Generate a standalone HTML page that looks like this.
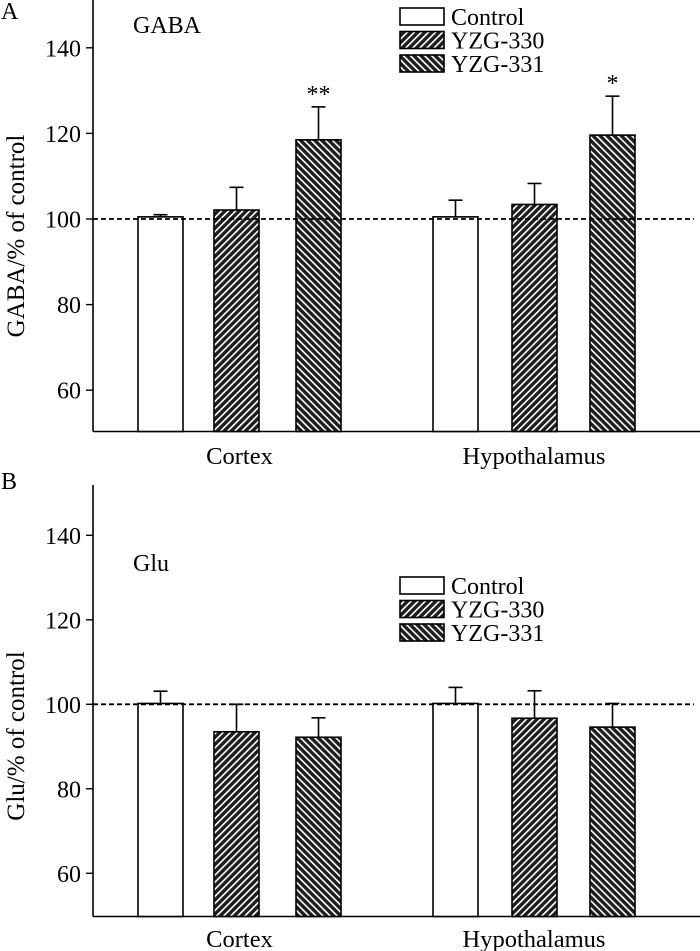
<!DOCTYPE html>
<html><head><meta charset="utf-8"><style>
html,body{margin:0;padding:0;background:#fff;}
svg{display:block;font-family:"Liberation Serif",serif;}
</style></head><body>
<svg id="chart" width="700" height="951" viewBox="0 0 700 951" xmlns="http://www.w3.org/2000/svg">
<defs>
<pattern id="p330" patternUnits="userSpaceOnUse" width="5" height="5" patternTransform="rotate(45)">
<rect width="5" height="5" fill="#1e1e1e"/><rect x="0" y="0" width="1.6" height="5" fill="#fff"/>
</pattern>
<pattern id="p331" patternUnits="userSpaceOnUse" width="5" height="5" patternTransform="rotate(-45)">
<rect width="5" height="5" fill="#1e1e1e"/><rect x="0" y="0" width="1.6" height="5" fill="#fff"/>
</pattern>
</defs>
</svg>
<script>
const categories = ["Cortex", "Hypothalamus"];
const seriesNames = ["Control", "YZG-330", "YZG-331"];
const gabaMeans = [[100.5, 102.1, 118.5], [100.5, 103.4, 119.6]];
const gabaErr = [[0.5, 5.3, 7.7], [3.9, 4.9, 9.1]];
const gabaSig = [["", "", "**"], ["", "", "*"]];
const gluMeans = [[100.2, 93.5, 92.2], [100.2, 96.7, 94.6]];
const gluErr = [[2.9, 6.5, 4.6], [3.8, 6.5, 5.6]];
const gluSig = [["", "", ""], ["", "", ""]];
const yTicks = [60, 80, 100, 120, 140];

const NS = "http://www.w3.org/2000/svg";
const svg = document.getElementById("chart");
function mk(tag, attrs, parent, text) {
  const e = document.createElementNS(NS, tag);
  for (const k in attrs) e.setAttribute(k, attrs[k]);
  if (text !== undefined) e.textContent = text;
  (parent || svg).appendChild(e);
  return e;
}
const fills = ["#fff", "url(#p330)", "url(#p331)"];
const barX = [[138, 214, 296], [433, 512, 590]];
const barW = 45;

function panel(cfg) {
  const g = mk("g", {});
  
  
  const y = v => cfg.y100 - (v - 100) * cfg.pxPer20 / 20;
  const L = mk("text", {x: 1, y: cfg.letterY, "font-size": 24}, g, cfg.letter);
  
  
  const ax = mk("line", {x1: 93, y1: cfg.top, x2: 93, y2: cfg.bottom, stroke: "#000", "stroke-width": 1.6}, g);
  
  
  const xa = mk("line", {x1: 93, y1: cfg.bottom, x2: 700, y2: cfg.bottom, stroke: "#000", "stroke-width": 1.6}, g);
  
  
  yTicks.forEach(t => {
    const tk = mk("line", {x1: 86, y1: y(t), x2: 93, y2: y(t), stroke: "#000", "stroke-width": 1.4}, g);
    
    
    const tl = mk("text", {x: 81, y: y(t) + 8.5, "font-size": 24, "text-anchor": "end"}, g, String(t));
    
    
  });
  const yt = mk("text", {x: 0, y: 0, "font-size": 25, "text-anchor": "middle", transform: `translate(24,${cfg.titleY}) rotate(-90)`}, g, cfg.yTitle);
  
  
  const pl = mk("text", {x: 133, y: cfg.labelY, "font-size": 24}, g, cfg.label);
  
  
  categories.forEach((c, ci) => {
    cfg.means[ci].forEach((m, si) => {
      const x0 = barX[ci][si];
      const eTop = y(m + cfg.err[ci][si]);
      const eb = mk("line", {x1: x0 + barW / 2, y1: y(m), x2: x0 + barW / 2, y2: eTop, stroke: "#000", "stroke-width": 1.6}, g);
      
      
      const ec = mk("line", {x1: x0 + barW / 2 - 7, y1: eTop, x2: x0 + barW / 2 + 7, y2: eTop, stroke: "#000", "stroke-width": 1.6}, g);
      
      
      const r = mk("rect", {x: x0, y: y(m), width: barW, height: cfg.bottom - y(m), fill: fills[si], stroke: "#000", "stroke-width": 1.6}, g);
      
      
      if (cfg.sig[ci][si]) {
        const s = mk("text", {x: x0 + barW / 2, y: eTop - 5, "font-size": 24, "text-anchor": "middle"}, g, cfg.sig[ci][si]);
        
        
      }
    });
    const cl = mk("text", {x: (barX[ci][0] + barX[ci][2] + barW) / 2, y: cfg.catY, "font-size": 24.5, "text-anchor": "middle"}, g, c);
    
    
  });
  const rl = mk("line", {x1: 93, y1: y(100), x2: 694, y2: y(100), stroke: "#000", "stroke-width": 1.8, "stroke-dasharray": "5,3"}, g);
  
  
  seriesNames.forEach((n, si) => {
    const ly = cfg.legendY + si * 23.5;
    const lb = mk("rect", {x: 400, y: ly, width: 44, height: 17, fill: fills[si], stroke: "#000", "stroke-width": 1.6}, g);
    
    
    const lt = mk("text", {x: 451, y: ly + 17, "font-size": 24}, g, n);
    
    
  });
}

panel({name: "panel-a-gaba", letter: "A", letterY: 19, top: 0, bottom: 431.5, y100: 219, pxPer20: 85.6,
  yTitle: "GABA/% of control", titleY: 236, label: "GABA", labelY: 33, means: gabaMeans, err: gabaErr, sig: gabaSig,
  catY: 464, legendY: 8});
panel({name: "panel-b-glu", letter: "B", letterY: 489, top: 485, bottom: 916.5, y100: 704.3, pxPer20: 84.5,
  yTitle: "Glu/% of control", titleY: 736, label: "Glu", labelY: 571, means: gluMeans, err: gluErr, sig: gluSig,
  catY: 947, legendY: 577});
</script>
</body></html>
